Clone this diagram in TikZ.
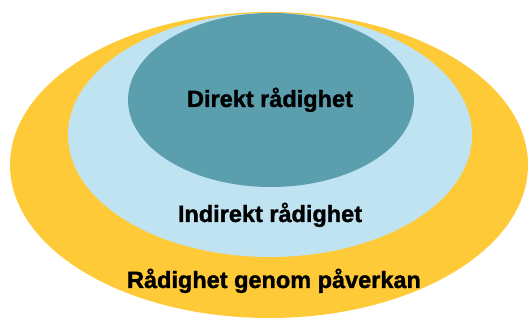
\documentclass[tikz,border=0pt]{standalone}
\usepackage{fontspec}
\setmainfont{Liberation Sans}[BoldFeatures={FakeBold=1.4}]
\usetikzlibrary{shapes.geometric}

\definecolor{ringgold}{HTML}{FFCA38}
\definecolor{ringsky}{HTML}{BFE3F1}
\definecolor{ringteal}{HTML}{5B9FAF}

\begin{document}
\begin{tikzpicture}[
  x=1pt, y=-1pt,
  ring/.style={ellipse, draw=none, inner sep=0pt},
  lab/.style={font=\fontsize{23.5}{27}\selectfont\bfseries, text=black,
              anchor=base, inner sep=0pt}
]
\useasboundingbox (0,0) rectangle (528,320);

% ================= rings =================
\node[ring, fill=ringgold, minimum width=518pt, minimum height=306pt] (outer) at (269,165) {};
\node[ring, fill=ringsky, minimum width=404pt, minimum height=244pt] (mid) at (270,135) {};
\node[ring, fill=ringteal, minimum width=286pt, minimum height=174pt] (inner) at (271,100) {};

% ================= labels =================
\node[lab] (direkt) at (270,107) {Direkt rådighet};
\node[lab] (indirekt) at (270,222) {Indirekt rådighet};
\node[lab] (paverkan) at (274,288) {Rådighet genom påverkan};

\end{tikzpicture}
\end{document}
